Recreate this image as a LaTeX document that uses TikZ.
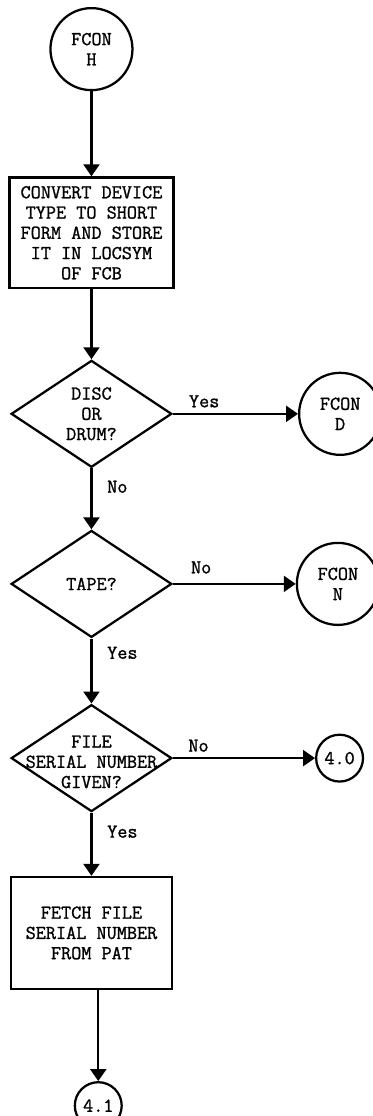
\documentclass[tikz,border=0pt]{standalone}
\usepackage{fontspec}
\newfontfamily\flowfont[FakeBold=1.2]{Latin Modern Mono}
\usetikzlibrary{positioning,shapes.geometric,arrows.meta}
\begin{document}
\begin{tikzpicture}[
    every node/.style={font=\fontsize{14.8pt}{15.25pt}\selectfont\flowfont, align=center, inner sep=1pt},
    terminal/.style={circle, draw, line width=1.7pt, minimum size=2.17cm, inner sep=0pt},
    connector/.style={circle, draw, line width=1.7pt, minimum size=1.24cm, inner sep=0pt},
    process/.style={rectangle, draw, line width=1.7pt, minimum width=4.34cm, minimum height=2.93cm},
    decision/.style={diamond, draw, line width=1.7pt, minimum width=4.25cm, minimum height=2.83cm, inner sep=0pt},
    flow/.style={draw, line width=1.7pt, -{Triangle[length=9pt, width=12pt]}}
]
    \useasboundingbox (0,0) rectangle (9.843,-29.528);
    \node [terminal] (fconh) at (2.42,-1.30) {FCON\\H};
    \node [process, below=2.25cm of fconh] (convert) {CONVERT DEVICE\\TYPE TO SHORT\\FORM AND STORE\\IT IN LOCSYM\\OF FCB};
    \node [decision, below=1.85cm of convert] (disc) {};
    \node (disctext) at (disc) {DISC\\OR\\DRUM?};
    \node [terminal, right=3.31cm of disc] (fcond) {FCON\\D};
    \node [decision, below=1.61cm of disc] (tape) {};
    \node (tapetext) at (tape) {TAPE?};
    \node [terminal, right=3.25cm of tape] (fconn) {FCON\\N};
    \node [decision, below=1.72cm of tape] (fsn) {};
    \node (fsntext) at ([yshift=-0.1cm]fsn.center) {FILE\\SERIAL NUMBER\\GIVEN?};
    \node [connector, right=3.76cm of fsn] (p40) {4.0};
    \node [process, below=1.67cm of fsn, minimum width=4.26cm, minimum height=2.96cm] (fetch) {FETCH FILE\\SERIAL NUMBER\\FROM PAT};
    \node [connector, below=2.41cm of fetch, xshift=0.18cm] (p41) {4.1};

    \draw [flow] (fconh) -- (convert);
    \draw [flow] (convert) -- (disc);
    \draw [flow] (disc) -- node [pos=0.25, above=3pt] {Yes} (fcond);
    \draw [flow] (disc) -- node [pos=0.3, right=10pt] {No} (tape);
    \draw [flow] (tape) -- node [pos=0.23, above=6pt] {No} (fconn);
    \draw [flow] (tape) -- node [pos=0.22, right=10pt] {Yes} (fsn);
    \draw [flow] (fsn) -- node [pos=0.18, above=3pt] {No} (p40);
    \draw [flow] (fsn) -- node [pos=0.3, right=10pt] {Yes} (fetch);
    \draw [flow] (fetch.south -| p41) -- (p41);
\end{tikzpicture}
\end{document}
